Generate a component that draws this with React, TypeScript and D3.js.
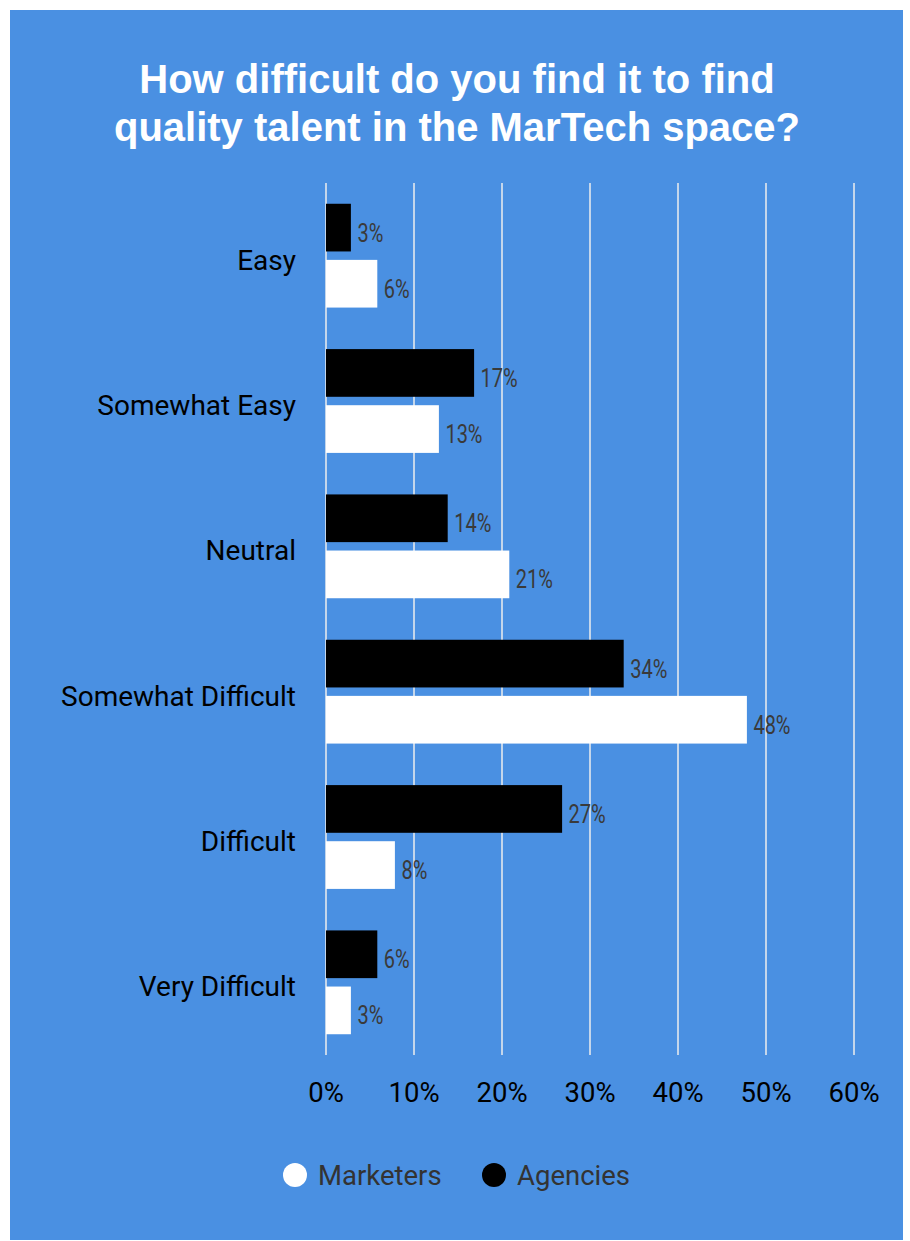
import React from "react";
import * as d3 from "d3";

const categories = ["Easy", "Somewhat Easy", "Neutral", "Somewhat Difficult", "Difficult", "Very Difficult"];
const agencies = [3, 17, 14, 34, 27, 6];
const marketers = [6, 13, 21, 48, 8, 3];
const ticks = [0, 10, 20, 30, 40, 50, 60];
const seriesNames = ["Agencies", "Marketers"];
const legendItems = ["Marketers", "Agencies"];

export default function App() {
  const W = 910, H = 1241;
  const x = d3.scaleLinear().domain([0, 60]).range([326, 854]);
  const y = d3.scaleBand().domain(categories).range([183, 1055]).paddingInner(0).paddingOuter(0);
  const inner = d3.scaleBand().domain(seriesNames).range([0, y.bandwidth()]).paddingInner(0.15).paddingOuter(0.37);
  const colors: Record<string, string> = { Agencies: "#000000", Marketers: "#ffffff" };
  const bg = "#4a90e2";
  const font = "Roboto, sans-serif";
  return (
    <svg width={W} height={H} style={{ position: "absolute", left: 0, top: 0 }}>
      <rect x={0} y={0} width={W} height={H} fill="#ffffff" />
      <rect x={10} y={10} width={893} height={1230} fill={bg} />
      <text x={457} y={93} textAnchor="middle" fontFamily="Liberation Sans, Arial, sans-serif" fontWeight="bold" fontSize={40} fill="#fff">How difficult do you find it to find</text>
      <text x={457} y={141} textAnchor="middle" fontFamily="Liberation Sans, Arial, sans-serif" fontWeight="bold" fontSize={40} fill="#fff">quality talent in the MarTech space?</text>
      {ticks.map((t) => (
        <g key={t}>
          <line x1={x(t)} x2={x(t)} y1={183} y2={1055} stroke="#eeeeee" strokeWidth={1.5} />
          <text x={x(t)} y={1102} textAnchor="middle" fontFamily={font} fontSize={27.5} fill="#000">{t}%</text>
        </g>
      ))}
      {categories.map((c, i) => {
        const vals: Record<string, number> = { Agencies: agencies[i], Marketers: marketers[i] };
        return (
          <g key={c}>
            <text x={296} y={(y(c) as number) + y.bandwidth() / 2 + 14} textAnchor="end" fontFamily={font} fontSize={28} fill="#000">{c}</text>
            {seriesNames.map((s) => {
              const by = (y(c) as number) + (inner(s) as number);
              const v = vals[s];
              return (
                <g key={s}>
                  <rect x={x(0)} y={by} width={x(v) - x(0) - 1.5} height={inner.bandwidth()} fill={colors[s]} />
                  <g transform={`translate(${x(v) + 5},${by + inner.bandwidth() / 2 + 14}) scale(0.8,1)`}>
                    <text x={0} y={0} fontFamily={font} fontSize={25} fill="#3a3a3a">{v}%</text>
                  </g>
                </g>
              );
            })}
          </g>
        );
      })}
      {legendItems.map((s, i) => {
        const cx = 295 + i * 199;
        return (
          <g key={s}>
            <circle cx={cx} cy={1175} r={12} fill={colors[s]} />
            <text x={cx + 23} y={1185} fontFamily={font} fontSize={27.5} fill="#333">{s}</text>
          </g>
        );
      })}
    </svg>
  );
}
